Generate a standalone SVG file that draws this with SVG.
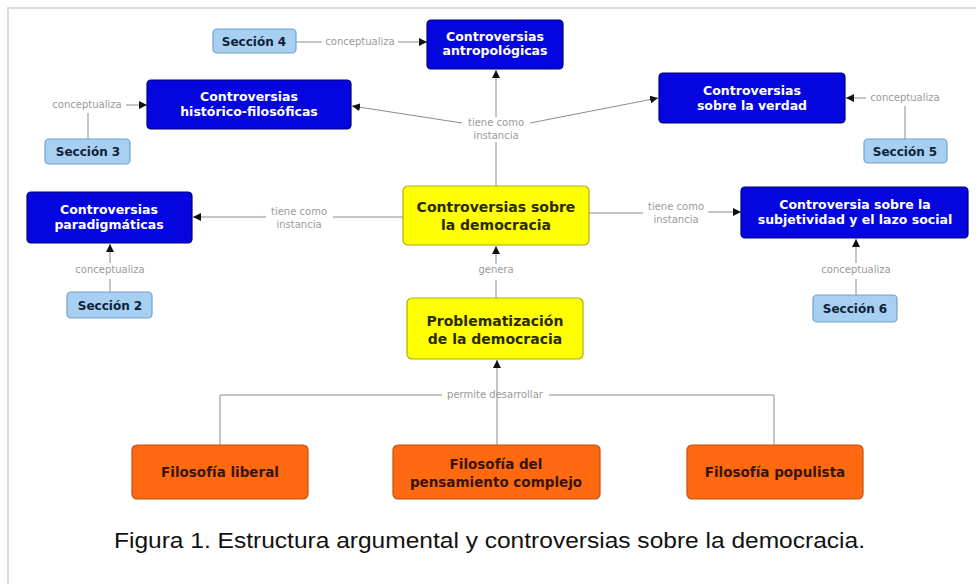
<svg xmlns="http://www.w3.org/2000/svg" width="976" height="584" viewBox="0 0 976 584">
<style>
.bg{fill:#ffffff}
.frame{stroke:#dcdcdc;stroke-width:2;fill:none}
.blue rect{fill:#0505e0;stroke:#00006e;stroke-width:1.2}
.blue text{fill:#ffffff;font-family:"DejaVu Sans",Verdana,sans-serif;font-weight:bold;font-size:12.5px;text-anchor:middle}
.sec rect{fill:#a6cff2;stroke:#72a2cc;stroke-width:1.2}
.sec text{fill:#0f2236;font-family:"DejaVu Sans",Verdana,sans-serif;font-weight:bold;font-size:12px;text-anchor:middle}
.yel rect{fill:#ffff00;stroke:#b0b000;stroke-width:1.2}
.yel text{fill:#2a2a00;font-family:"DejaVu Sans",Verdana,sans-serif;font-weight:bold;font-size:14px;text-anchor:middle}
.org rect{fill:#ff6a10;stroke:#c24e10;stroke-width:1.2}
.org text{fill:#3a1400;font-family:"DejaVu Sans",Verdana,sans-serif;font-weight:bold;font-size:13.5px;text-anchor:middle}
.ln{stroke:#8c8c8c;stroke-width:1;fill:none}
.lbl{fill:#9a9a9a;font-family:"DejaVu Sans",Verdana,sans-serif;font-size:10px;text-anchor:middle}
.cap{fill:#111111;font-family:"Liberation Sans",Arial,sans-serif;font-size:22.5px}
</style>
<defs>
<marker id="arr" markerUnits="userSpaceOnUse" markerWidth="9" markerHeight="8" refX="8" refY="4" orient="auto">
<path d="M0,0 L8,4 L0,8 Z" fill="#111111"/>
</marker>
</defs>
<rect class="bg" x="0" y="0" width="976" height="584"/>
<path class="frame" d="M8,584 V8 H976"/>

<g id="connectors">
<path class="ln" d="M296,42 H322"/>
<path class="ln" d="M398,42 H427" marker-end="url(#arr)"/>
<text class="lbl" x="360" y="45">conceptualiza</text>

<path class="ln" d="M496,186 V142"/>
<path class="ln" d="M496,117 V70" marker-end="url(#arr)"/>
<path class="ln" d="M462,123 L352,106" marker-end="url(#arr)"/>
<path class="ln" d="M530,123 L658,98" marker-end="url(#arr)"/>
<text class="lbl" x="496" y="126">tiene como</text>
<text class="lbl" x="496" y="139">instancia</text>

<path class="ln" d="M88,139 V113"/>
<path class="ln" d="M126,105 H147" marker-end="url(#arr)"/>
<text class="lbl" x="87" y="108">conceptualiza</text>

<path class="ln" d="M905,139 V106"/>
<path class="ln" d="M866,98 H846" marker-end="url(#arr)"/>
<text class="lbl" x="905" y="101">conceptualiza</text>

<path class="ln" d="M403,217 H333"/>
<path class="ln" d="M266,217 H193" marker-end="url(#arr)"/>
<text class="lbl" x="299" y="215">tiene como</text>
<text class="lbl" x="299" y="228">instancia</text>

<path class="ln" d="M589,213 H643"/>
<path class="ln" d="M708,212 H741" marker-end="url(#arr)"/>
<text class="lbl" x="676" y="210">tiene como</text>
<text class="lbl" x="676" y="223">instancia</text>

<path class="ln" d="M856,295 V279"/>
<path class="ln" d="M856,263 V239" marker-end="url(#arr)"/>
<text class="lbl" x="856" y="273">conceptualiza</text>

<path class="ln" d="M110,292 V279"/>
<path class="ln" d="M110,263 V244" marker-end="url(#arr)"/>
<text class="lbl" x="110" y="273">conceptualiza</text>

<path class="ln" d="M496,298 V280"/>
<path class="ln" d="M496,264 V246" marker-end="url(#arr)"/>
<text class="lbl" x="496" y="273">genera</text>

<path class="ln" d="M220,446 V395 H442"/>
<path class="ln" d="M549,395 H774 V446"/>
<path class="ln" d="M497,445 V360" marker-end="url(#arr)"/>
<text class="lbl" x="495" y="398">permite desarrollar</text>
</g>

<g id="n-antropologicas" class="blue">
<rect x="427" y="20" width="136" height="49" rx="4"/>
<text x="495" y="41">Controversias</text>
<text x="495" y="55">antropológicas</text>
</g>
<g id="n-historico" class="blue">
<rect x="147" y="80" width="204" height="49" rx="4"/>
<text x="249" y="101">Controversias</text>
<text x="249" y="116">histórico-filosóficas</text>
</g>
<g id="n-verdad" class="blue">
<rect x="659" y="73" width="186" height="50" rx="4"/>
<text x="752" y="95">Controversias</text>
<text x="752" y="110">sobre la verdad</text>
</g>
<g id="n-paradigmaticas" class="blue">
<rect x="27" y="192" width="165" height="51" rx="4"/>
<text x="109" y="214">Controversias</text>
<text x="109" y="229">paradigmáticas</text>
</g>
<g id="n-subjetividad" class="blue">
<rect x="741" y="187" width="227" height="51" rx="4"/>
<text x="855" y="209">Controversia sobre la</text>
<text x="855" y="224">subjetividad y el lazo social</text>
</g>

<g id="n-sec4" class="sec">
<rect x="213" y="29" width="83" height="24" rx="4"/>
<text x="254" y="45.5">Sección 4</text>
</g>
<g id="n-sec3" class="sec">
<rect x="45" y="139" width="85" height="25" rx="4"/>
<text x="88" y="156">Sección 3</text>
</g>
<g id="n-sec5" class="sec">
<rect x="864" y="139" width="83" height="24" rx="4"/>
<text x="905" y="155.5">Sección 5</text>
</g>
<g id="n-sec2" class="sec">
<rect x="67" y="292" width="85" height="26" rx="4"/>
<text x="110" y="309.5">Sección 2</text>
</g>
<g id="n-sec6" class="sec">
<rect x="813" y="295" width="84" height="27" rx="4"/>
<text x="855" y="313">Sección 6</text>
</g>

<g id="n-controversias-democracia" class="yel">
<rect x="403" y="186" width="186" height="59" rx="5"/>
<text x="496" y="212">Controversias sobre</text>
<text x="496" y="230">la democracia</text>
</g>
<g id="n-problematizacion" class="yel">
<rect x="407" y="298" width="176" height="61" rx="5"/>
<text x="495" y="326">Problematización</text>
<text x="495" y="344">de la democracia</text>
</g>

<g id="n-liberal" class="org">
<rect x="132" y="445" width="176" height="54" rx="5"/>
<text x="220" y="477">Filosofía liberal</text>
</g>
<g id="n-complejo" class="org">
<rect x="393" y="445" width="207" height="54" rx="5"/>
<text x="496" y="469">Filosofía del</text>
<text x="496" y="487">pensamiento complejo</text>
</g>
<g id="n-populista" class="org">
<rect x="687" y="445" width="176" height="54" rx="5"/>
<text x="775" y="477">Filosofía populista</text>
</g>

<text class="cap" x="114" y="548" textLength="751" lengthAdjust="spacingAndGlyphs">Figura 1. Estructura argumental y controversias sobre la democracia.</text>
</svg>
